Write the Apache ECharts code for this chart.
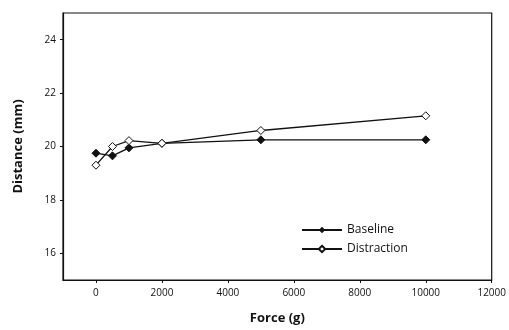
<!DOCTYPE html>
<html>
<head>
<meta charset="utf-8">
<script src="https://cdn.jsdelivr.net/npm/echarts@6/dist/echarts.min.js"></script>
<style>
  html, body { margin: 0; padding: 0; background: #fff; }
  #chart { width: 509px; height: 330px; }
</style>
</head>
<body>
<div id="chart"></div>
<script>
// force levels (g) and mean distances (mm)
const forces = [0, 500, 1000, 2000, 5000, 10000];
const baseline = [19.75, 19.65, 19.95, 20.12, 20.25, 20.25];
const distraction = [19.3, 20.0, 20.22, 20.12, 20.6, 21.15];

const xTicks = [0, 2000, 4000, 6000, 8000, 10000, 12000];
const yTicks = [16, 18, 20, 22, 24];

const ink = "#111";
const font = "'Open Sans', 'Liberation Sans', sans-serif";

const pairs = (ys) => forces.map((f, i) => [f, ys[i]]);

const chart = echarts.init(document.getElementById("chart"), null, { renderer: "canvas" });

chart.setOption({
  animation: false,
  backgroundColor: "#fff",
  grid: {
    left: 63,
    right: 12,
    top: 13,
    bottom: 49,
    show: true,
    borderColor: ink,
    borderWidth: 1.2,
  },
  legend: {
    left: 296,
    top: 219,
    orient: "vertical",
    itemWidth: 40,
    itemHeight: 8,
    itemGap: 7,
    textStyle: { color: ink, fontSize: 12, fontFamily: font },
    data: ["Baseline", "Distraction"],
  },
  xAxis: {
    type: "value",
    min: -1000,
    max: 12000,
    name: "Force (g)",
    nameLocation: "middle",
    nameGap: 32,
    nameTextStyle: { color: ink, fontSize: 13, fontWeight: "bold", fontFamily: font },
    axisLine: { show: true, onZero: false, lineStyle: { color: ink, width: 1.2 } },
    axisTick: { show: true, length: 3, customValues: xTicks, lineStyle: { color: ink } },
    axisLabel: {
      customValues: xTicks,
      formatter: (v) => String(v),
      color: ink,
      fontSize: 10,
      fontFamily: font,
      margin: 8,
    },
    splitLine: { show: false },
  },
  yAxis: {
    type: "value",
    min: 15,
    max: 25,
    name: "Distance (mm)",
    nameLocation: "middle",
    nameGap: 38,
    nameTextStyle: { color: ink, fontSize: 13, fontWeight: "bold", fontFamily: font },
    axisLine: { show: true, onZero: false, lineStyle: { color: ink, width: 1.2 } },
    axisTick: { show: true, length: 3, customValues: yTicks, lineStyle: { color: ink } },
    axisLabel: { customValues: yTicks, color: ink, fontSize: 10, fontFamily: font, margin: 7 },
    splitLine: { show: false },
  },
  series: [
    {
      name: "Baseline",
      type: "line",
      data: pairs(baseline),
      symbol: "diamond",
      symbolSize: 8,
      lineStyle: { color: ink, width: 1.3 },
      itemStyle: { color: ink, borderColor: ink },
    },
    {
      name: "Distraction",
      type: "line",
      data: pairs(distraction),
      symbol: "diamond",
      symbolSize: 8,
      lineStyle: { color: ink, width: 1.3 },
      itemStyle: { color: "#fff", borderColor: ink, borderWidth: 1 },
    },
  ],
});
</script>
</body>
</html>
